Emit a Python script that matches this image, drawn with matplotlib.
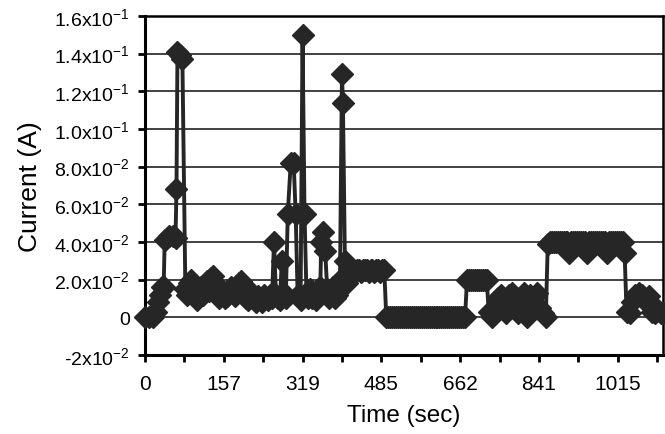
import numpy as np
import matplotlib
matplotlib.use("Agg")
import matplotlib.pyplot as plt

plt.rcParams['font.family'] = ['Liberation Sans', 'DejaVu Sans']
plt.rcParams['mathtext.fontset'] = 'custom'
plt.rcParams['mathtext.rm'] = 'Liberation Sans'
plt.rcParams['mathtext.it'] = 'Liberation Sans'

# sample number along the (category) time axis
sample = [0, 4, 8, 11, 13, 15, 17, 19, 20, 24, 28, 31, 32, 33, 36, 38,
          41, 43, 45, 47, 49, 51, 53, 55, 57, 59, 61, 63, 65, 67, 69, 71,
          73, 75, 77, 79, 81, 83, 85, 87, 89, 91, 93, 95, 97, 99, 101, 103,
          105, 107, 109, 111, 113, 115, 117, 119, 121, 123, 125, 127, 129,
          131, 133, 135, 137, 139, 141, 143, 145, 148, 151, 153, 155, 158, 160,
          162, 164, 166, 168, 170, 172, 174, 176, 178, 179, 181, 183, 185, 187,
          189, 191, 193, 195, 197, 198, 200, 201, 203, 205,
          207, 209, 211, 213, 215, 217, 219, 221, 223, 225, 227, 229, 231, 233,
          235, 237, 239, 241, 243,
          245, 247, 249, 251, 253, 255, 257, 259, 261, 263, 265, 267, 269, 271,
          273, 275, 277, 279, 281, 283, 285, 287, 289, 291, 293, 295, 297, 299,
          301, 303, 305, 307, 309, 311, 313, 315, 317, 319, 321, 323, 325,
          327, 329, 331, 333, 335, 337, 339, 341, 343, 345, 347,
          349, 352, 355, 358, 361, 364, 367, 370, 373, 376, 379, 382, 385, 388,
          391, 394, 398, 401, 404, 407,
          409, 411, 413, 415, 417, 419, 421, 423, 425, 427, 429, 431, 433, 435,
          437, 439, 441, 443, 445, 447, 449, 451, 453, 455, 457, 459, 461, 463,
          465, 467, 469, 471, 473, 475, 477, 479, 481, 483, 485, 487,
          489, 492, 495, 498, 502, 505, 509, 512, 515, 518, 521, 524, 526]

# current in A
current = [0.000, 0.000, 0.000, 0.003, 0.008, 0.012, 0.016, 0.016, 0.041, 0.043, 0.043, 0.042, 0.068, 0.141, 0.139, 0.137,
           0.015, 0.012, 0.018, 0.020, 0.016, 0.011, 0.009, 0.014, 0.016, 0.012, 0.017, 0.019, 0.014, 0.021, 0.022, 0.017,
           0.012, 0.010, 0.015, 0.013, 0.010, 0.011, 0.014, 0.016, 0.013, 0.011, 0.015, 0.018, 0.019, 0.017, 0.013, 0.010,
           0.009, 0.011, 0.013, 0.010, 0.008, 0.011, 0.010, 0.008, 0.012, 0.010, 0.009, 0.012, 0.010,
           0.040, 0.012, 0.010, 0.009, 0.030, 0.013, 0.010, 0.055, 0.082, 0.082, 0.055, 0.012, 0.009, 0.150,
           0.055, 0.012, 0.010, 0.015, 0.010, 0.013, 0.009, 0.012, 0.016, 0.040, 0.045, 0.035, 0.015, 0.010,
           0.013, 0.016, 0.010, 0.012, 0.015, 0.020, 0.129, 0.114, 0.030, 0.018,
           0.024, 0.025, 0.025, 0.024, 0.025, 0.025, 0.024, 0.025, 0.025, 0.025, 0.024, 0.025, 0.025, 0.024,
           0.025, 0.025, 0.024, 0.025, 0.025,
           0.000, 0.000, 0.000, 0.000, 0.000, 0.000, 0.000, 0.000, 0.000, 0.000, 0.000, 0.000, 0.000, 0.000,
           0.000, 0.000, 0.000, 0.000, 0.000, 0.000, 0.000, 0.000, 0.000, 0.000, 0.000, 0.000, 0.000, 0.000,
           0.000, 0.000, 0.000, 0.000, 0.000, 0.000, 0.000, 0.000, 0.000, 0.000, 0.000, 0.000, 0.000,
           0.020, 0.020, 0.020, 0.020, 0.020, 0.020, 0.020, 0.020, 0.020, 0.020, 0.020,
           0.003, 0.000, 0.005, 0.010, 0.012, 0.008, 0.002, 0.012, 0.013, 0.006, 0.002, 0.010, 0.013, 0.000,
           0.012, 0.010, 0.013, 0.005, 0.002, 0.000,
           0.039, 0.040, 0.040, 0.040, 0.040, 0.040, 0.040, 0.040, 0.040, 0.040, 0.040, 0.034, 0.040, 0.040,
           0.040, 0.040, 0.040, 0.040, 0.040, 0.040, 0.034, 0.040, 0.040, 0.040, 0.040, 0.040, 0.040, 0.040,
           0.040, 0.040, 0.034, 0.040, 0.040, 0.040, 0.040, 0.040, 0.040, 0.040, 0.040, 0.034,
           0.003, 0.002, 0.008, 0.012, 0.013, 0.012, 0.008, 0.011, 0.003, 0.002, 0.004, 0.002, 0.002]

time_labels = ['0', '157', '319', '485', '662', '841', '1015']
label_step = 80
y_ticks = [-0.02, 0, 0.02, 0.04, 0.06, 0.08, 0.10, 0.12, 0.14, 0.16]
y_labels = ['-2x10$^{-2}$', '0', '2.0x10$^{-2}$', '4.0x10$^{-2}$', '6.0x10$^{-2}$',
            '8.0x10$^{-2}$', '1.0x10$^{-1}$', '1.2x10$^{-1}$', '1.4x10$^{-1}$', '1.6x10$^{-1}$']

fig = plt.figure(figsize=(6.65, 4.35), dpi=100)
ax = fig.add_axes([0.218, 0.182, 0.779, 0.779])

ax.plot(sample, current, color='#262626', lw=2.8, marker='D', ms=11.5,
        mec='#262626', mfc='#262626', clip_on=False, zorder=3)

ax.set_xlim(0, 526)
ax.set_ylim(-0.02, 0.16)

ax.set_xticks(np.arange(0, 526, label_step // 2))
xt = []
for i in range(len(ax.get_xticks())):
    xt.append(time_labels[i // 2] if i % 2 == 0 else '')
ax.set_xticklabels(xt)
ax.set_yticks(y_ticks)
ax.set_yticklabels(y_labels)

ax.grid(axis='y', color='#333333', lw=1.3)
ax.set_axisbelow(True)
for side in ['left', 'bottom']:
    ax.spines[side].set_linewidth(2.2)
for side in ['top', 'right']:
    ax.spines[side].set_linewidth(1.8)
ax.tick_params(axis='both', direction='out', length=5, width=2, pad=6)
ax.tick_params(axis='y', labelsize=14)
ax.tick_params(axis='x', pad=9, labelsize=15)

ax.set_xlabel('Time (sec)', fontsize=17.5, labelpad=8)
ax.set_ylabel('Current (A)', fontsize=19, labelpad=9)

fig.savefig('out.png', dpi=100)
